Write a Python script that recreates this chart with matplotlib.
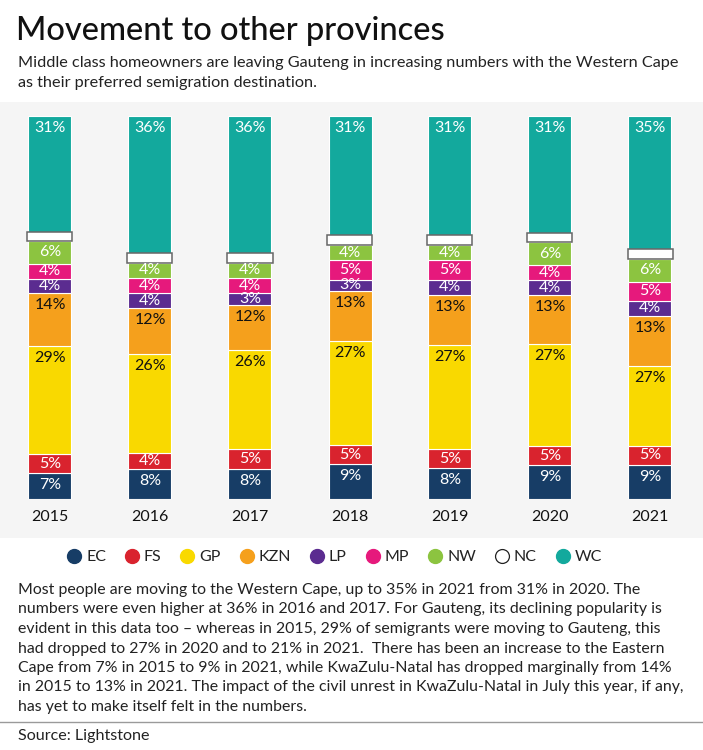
import matplotlib.pyplot as plt
from matplotlib.lines import Line2D
from matplotlib.patches import Rectangle
import numpy as np

plt.rcParams["font.family"] = ["Lato", "DejaVu Sans"]

years = ["2015", "2016", "2017", "2018", "2019", "2020", "2021"]
provinces = ["EC", "FS", "GP", "KZN", "LP", "MP", "NW", "NC", "WC"]

ec = [7, 8, 8, 9, 8, 9, 9]
fs = [5, 4, 5, 5, 5, 5, 5]
gp = [29, 26, 26, 27, 27, 27, 21]
kzn = [14, 12, 12, 13, 13, 13, 13]
lp = [4, 4, 3, 3, 4, 4, 4]
mp = [4, 4, 4, 5, 5, 4, 5]
nw = [6, 4, 4, 4, 4, 6, 6]
nc = [2.5, 2.5, 2.5, 2.5, 2.5, 2.5, 2.5]  # unlabelled, estimated
wc = [31, 36, 36, 31, 31, 31, 35]

# labels as printed on the chart (2021 GP reads 27% although bar is 21%)
gp_labels = ["29%", "26%", "26%", "27%", "27%", "27%", "27%"]

colors = {
    "EC": "#173d66", "FS": "#d9232e", "GP": "#f9d900", "KZN": "#f5a01c",
    "LP": "#5b2c90", "MP": "#e6197c", "NW": "#8cc440", "NC": "#ffffff",
    "WC": "#13a99d",
}
text_dark = {"GP", "KZN"}

series = {"EC": ec, "FS": fs, "GP": gp, "KZN": kzn, "LP": lp, "MP": mp,
          "NW": nw, "NC": nc, "WC": wc}

W, H = 703, 750
fig = plt.figure(figsize=(W / 100, H / 100), dpi=100)
fig.patch.set_facecolor("white")

# grey chart panel
fig.patches.append(Rectangle((0, 1 - 538 / H), 1, (538 - 102) / H,
                             transform=fig.transFigure, facecolor="#f5f5f5",
                             edgecolor="none", zorder=-5))

ax = fig.add_axes([0, 1 - 499 / H, 1, 383 / H])
ax.set_zorder(2)
ax.set_facecolor("none")
ax.set_xlim(-0.5, -0.5 + W / 100)
ax.set_ylim(0, 100)
ax.axis("off")

x = np.arange(len(years))
totals = np.sum([series[p] for p in provinces], axis=0)
px_per_unit = 383 / 100

bottom = np.zeros(len(years))
for p in provinces:
    vals = np.array(series[p]) / totals * 100
    if p == "NC":
        ax.bar(x, vals, 0.45, bottom=bottom, color="white", edgecolor="#666666",
               linewidth=1.1, zorder=3)
    else:
        ax.bar(x, vals, 0.43, bottom=bottom, color=colors[p], edgecolor="white",
               linewidth=0.8, zorder=2)
        for i in range(len(years)):
            top = bottom[i] + vals[i]
            off = min(12 / px_per_unit, vals[i] / 2)
            lab = gp_labels[i] if p == "GP" else f"{series[p][i]}%"
            ax.text(x[i], top - off, lab, ha="center", va="center",
                    fontsize=11.5, color="#111111" if p in text_dark else "white",
                    zorder=4)
    bottom += vals

for i, yr in enumerate(years):
    ax.text(x[i], -18 / px_per_unit, yr, ha="center", va="center",
            fontsize=11.5, color="#111111", clip_on=False)

# legend
handles = []
for p in provinces:
    if p == "NC":
        h = Line2D([], [], marker="o", linestyle="", markersize=10,
                   markerfacecolor="white", markeredgecolor="#222222",
                   markeredgewidth=0.9)
    else:
        h = Line2D([], [], marker="o", linestyle="", markersize=10,
                   markerfacecolor=colors[p], markeredgecolor=colors[p])
    handles.append(h)
fig.legend(handles, provinces, loc="center", bbox_to_anchor=(334 / W, 1 - 557 / H),
           ncol=9, frameon=False, fontsize=11.5, handletextpad=0.25,
           columnspacing=1.12, handlelength=1.0, labelcolor="#222222")

# titles
fig.text(16 / W, 1 - 31 / H, "Movement to other provinces", fontsize=23.5,
         fontweight="medium", color="#111111", va="center", ha="left")
subtitle = [
    "Middle class homeowners are leaving Gauteng in increasing numbers with the Western Cape",
    "as their preferred semigration destination.",
]
for k, line in enumerate(subtitle):
    fig.text(18 / W, 1 - (63 + 20 * k) / H, line, fontsize=11.7, color="#222222",
             va="center", ha="left")

body = [
    "Most people are moving to the Western Cape, up to 35% in 2021 from 31% in 2020. The",
    "numbers were even higher at 36% in 2016 and 2017. For Gauteng, its declining popularity is",
    "evident in this data too \u2013 whereas in 2015, 29% of semigrants were moving to Gauteng, this",
    "had dropped to 27% in 2020 and to 21% in 2021.  There has been an increase to the Eastern",
    "Cape from 7% in 2015 to 9% in 2021, while KwaZulu-Natal has dropped marginally from 14%",
    "in 2015 to 13% in 2021. The impact of the civil unrest in KwaZulu-Natal in July this year, if any,",
    "has yet to make itself felt in the numbers.",
]
for k, line in enumerate(body):
    fig.text(18 / W, 1 - (590 + 19.5 * k) / H, line, fontsize=11.4, color="#222222",
             va="center", ha="left")

fig.add_artist(Line2D([0, 1], [1 - 722 / H, 1 - 722 / H], color="#9a9a9a",
                      linewidth=1, transform=fig.transFigure))
fig.text(18 / W, 1 - 736 / H, "Source: Lightstone", fontsize=11.6, color="#222222",
         va="center", ha="left")

fig.savefig("out.png", dpi=100, facecolor="white")
